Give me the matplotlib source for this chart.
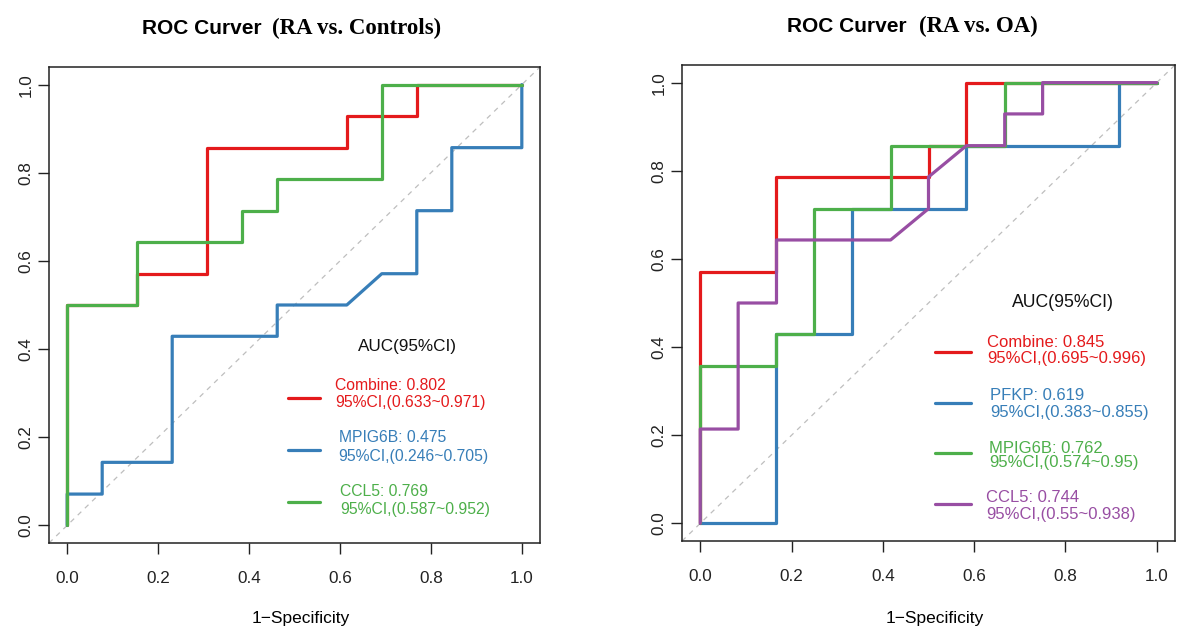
import matplotlib
matplotlib.use("Agg")
import matplotlib.pyplot as plt

plt.rcParams['font.family'] = ['Liberation Sans', 'DejaVu Sans']

# ---------------- data ----------------
titles_sans = ["ROC Curver", "ROC Curver"]
titles_serif = ["(RA vs. Controls)", "(RA vs. OA)"]
xlabel = "1\u2212Specificity"
tick_values = [0.0, 0.2, 0.4, 0.6, 0.8, 1.0]
tick_labels = ["0.0", "0.2", "0.4", "0.6", "0.8", "1.0"]

# Left panel: RA vs. Controls
l_combine_fpr = [0, 0, 0.154, 0.154, 0.308, 0.308, 0.615, 0.615, 0.769, 0.769, 1.0]
l_combine_tpr = [0, 0.5, 0.5, 0.571, 0.571, 0.857, 0.857, 0.929, 0.929, 1.0, 1.0]
l_mpig6b_fpr = [0, 0, 0.077, 0.077, 0.231, 0.231, 0.462, 0.462, 0.615, 0.692, 0.769, 0.769, 0.846, 0.846, 1.0, 1.0]
l_mpig6b_tpr = [0, 0.071, 0.071, 0.143, 0.143, 0.429, 0.429, 0.5, 0.5, 0.571, 0.571, 0.714, 0.714, 0.857, 0.857, 1.0]
l_ccl5_fpr = [0, 0, 0.154, 0.154, 0.385, 0.385, 0.462, 0.462, 0.692, 0.692, 1.0]
l_ccl5_tpr = [0, 0.5, 0.5, 0.643, 0.643, 0.714, 0.714, 0.786, 0.786, 1.0, 1.0]
l_labels = [("Combine: 0.802", "95%CI,(0.633~0.971)"),
            ("MPIG6B: 0.475", "95%CI,(0.246~0.705)"),
            ("CCL5: 0.769", "95%CI,(0.587~0.952)")]

# Right panel: RA vs. OA
r_combine_fpr = [0, 0, 0.167, 0.167, 0.5, 0.5, 0.583, 0.583, 1.0]
r_combine_tpr = [0, 0.571, 0.571, 0.786, 0.786, 0.857, 0.857, 1.0, 1.0]
r_pfkp_fpr = [0, 0.167, 0.167, 0.333, 0.333, 0.583, 0.583, 0.917, 0.917, 1.0]
r_pfkp_tpr = [0, 0, 0.429, 0.429, 0.714, 0.714, 0.857, 0.857, 1.0, 1.0]
r_mpig6b_fpr = [0, 0, 0.167, 0.167, 0.25, 0.25, 0.417, 0.417, 0.667, 0.667, 1.0]
r_mpig6b_tpr = [0, 0.357, 0.357, 0.429, 0.429, 0.714, 0.714, 0.857, 0.857, 1.0, 1.0]
r_ccl5_fpr = [0, 0, 0.083, 0.083, 0.167, 0.167, 0.417, 0.5, 0.5, 0.583, 0.667, 0.667, 0.75, 0.75, 1.0]
r_ccl5_tpr = [0, 0.214, 0.214, 0.5, 0.5, 0.643, 0.643, 0.714, 0.786, 0.857, 0.857, 0.929, 0.929, 1.0, 1.0]
r_labels = [("Combine: 0.845", "95%CI,(0.695~0.996)"),
            ("PFKP: 0.619", "95%CI,(0.383~0.855)"),
            ("MPIG6B: 0.762", "95%CI,(0.574~0.95)"),
            ("CCL5: 0.744", "95%CI,(0.55~0.938)")]

RED, BLUE, GREEN, PURPLE = "#E41A1C", "#377EB8", "#4DAF4A", "#984EA3"

# ---------------- figure ----------------
W, H = 1180, 631
fig = plt.figure(figsize=(W / 100, H / 100), dpi=100)

def px_axes(x0, y0, x1, y1):
    return fig.add_axes([x0 / W, 1 - y1 / H, (x1 - x0) / W, (y1 - y0) / H])

axL = px_axes(49, 67, 540, 543)
axR = px_axes(682, 65, 1175, 541)

def style(ax):
    ax.set_xlim(-0.04, 1.04)
    ax.set_ylim(-0.04, 1.04)
    for s in ax.spines.values():
        s.set_linewidth(1.1)
        s.set_color("#222222")
    ax.set_xticks(tick_values)
    ax.set_xticklabels(tick_labels, fontsize=12.3)
    ax.set_yticks(tick_values)
    ax.set_yticklabels(tick_labels, fontsize=12.3, rotation=90, va="center")
    ax.tick_params(axis="x", direction="out", length=8, width=1.0, pad=12, colors="#222222")
    ax.tick_params(axis="y", direction="out", length=8, width=1.0, pad=3, colors="#222222")
    ax.axline((0, 0), (1, 1), color="#BEBEBE", lw=0.9, ls=(0, (4, 4)), zorder=1)

def curve(ax, x, y, c):
    ax.plot(x, y, color=c, lw=2.3, solid_capstyle="round", solid_joinstyle="round", zorder=3)

style(axL)
style(axR)

curve(axL, l_combine_fpr, l_combine_tpr, RED)
curve(axL, l_mpig6b_fpr, l_mpig6b_tpr, BLUE)
curve(axL, l_ccl5_fpr, l_ccl5_tpr, GREEN)

curve(axR, r_combine_fpr, r_combine_tpr, RED)
curve(axR, r_pfkp_fpr, r_pfkp_tpr, BLUE)
curve(axR, r_mpig6b_fpr, r_mpig6b_tpr, GREEN)
curve(axR, r_ccl5_fpr, r_ccl5_tpr, PURPLE)

# ---------------- legends ----------------
def legend(ax, title_xy, title_fs, entries, colors, line_x, line_ys, text_xs, text_ys, fs):
    ax.text(title_xy[0], title_xy[1], "AUC(95%CI)", fontsize=title_fs, ha="center", va="center", color="#111111")
    for (l1, l2), c, ly, tx, (ty1, ty2) in zip(entries, colors, line_ys, text_xs, text_ys):
        ax.plot(line_x, [ly, ly], color=c, lw=2.3, solid_capstyle="round")
        ax.text(tx, ty1, l1, fontsize=fs, color=c, ha="left", va="center")
        ax.text(tx, ty2, l2, fontsize=fs, color=c, ha="left", va="center")

legend(axL, (0.749, 0.406), 12.3, l_labels, [RED, BLUE, GREEN],
       [0.485, 0.557], [0.290, 0.170, 0.052],
       [0.590, 0.597, 0.601],
       [(0.317, 0.279), (0.200, 0.156), (0.077, 0.036)], 11.3)

legend(axR, (0.794, 0.502), 12.7, r_labels, [RED, BLUE, GREEN, PURPLE],
       [0.514, 0.593], [0.389, 0.273, 0.159, 0.045],
       [0.628, 0.635, 0.632, 0.626],
       [(0.411, 0.373), (0.291, 0.252), (0.170, 0.139), (0.059, 0.020)], 12.0)

# ---------------- titles ----------------
sans_bold = dict(family=['Liberation Sans', 'DejaVu Sans'], weight='bold', fontsize=15)
serif_bold = dict(family=['Liberation Serif', 'DejaVu Serif'], weight='bold', fontsize=16.5)
fig.text(262 / W, 1 - 34 / H, titles_sans[0], ha="right", va="baseline", **sans_bold)
fig.text(272 / W, 1 - 34 / H, titles_serif[0], ha="left", va="baseline", **serif_bold)
fig.text(907 / W, 1 - 32 / H, titles_sans[1], ha="right", va="baseline", **sans_bold)
fig.text(919 / W, 1 - 32 / H, titles_serif[1], ha="left", va="baseline", **serif_bold)

# ---------------- x labels ----------------
fig.text(301 / W, 1 - 623 / H, xlabel, ha="center", va="baseline", fontsize=12.5)
fig.text(934.5 / W, 1 - 623 / H, xlabel, ha="center", va="baseline", fontsize=12.5)

fig.savefig("out.png", dpi=100)
